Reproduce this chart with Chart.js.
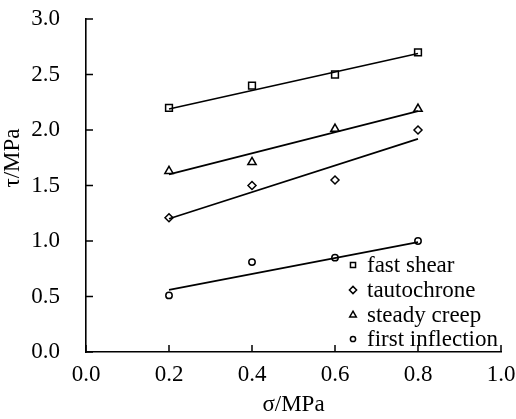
<!DOCTYPE html>
<html>
<head>
<meta charset="utf-8">
<script src="https://cdn.jsdelivr.net/npm/chart.js@4/dist/chart.umd.min.js"></script>
<style>
  html, body { margin: 0; padding: 0; background: #fff; }
  #wrap { width: 516px; height: 419px; }
</style>
</head>
<body>
<div id="wrap"><canvas id="c" width="516" height="419"></canvas></div>
<script>
// normal stress, MPa
const sigma = [0.2, 0.4, 0.6, 0.8];
// shear strength, MPa
const fastShear = [2.2, 2.4, 2.5, 2.7];
const tautochrone = [1.21, 1.5, 1.55, 2.0];
const steadyCreep = [1.63, 1.71, 2.01, 2.19];
const firstInflection = [0.51, 0.81, 0.85, 1.0];
// straight-line fits, ends at first and last sigma
const fitSigma = [0.2, 0.8];
const fastShearFit = [2.19, 2.69];
const tautochroneFit = [1.2, 1.92];
const steadyCreepFit = [1.6, 2.17];
const firstInflectionFit = [0.56, 0.99];

const labels = ['fast shear', 'tautochrone', 'steady creep', 'first inflection'];
const xTicks = [0, 0.2, 0.4, 0.6, 0.8, 1.0];
const yTicks = [0, 0.5, 1.0, 1.5, 2.0, 2.5, 3.0];

const FONT = '"Liberation Serif", "Times New Roman", serif';
const SIZE = 23;
Chart.defaults.font.family = FONT;
Chart.defaults.color = '#000';

function pts(xs, ys) {
    return xs.map((x, i) => ({ x: x, y: ys[i] }));
}

const series = [
    { data: fastShear, fit: fastShearFit, style: 'rect', r: 4.8, lr: 3.6 },
    { data: tautochrone, fit: tautochroneFit, style: 'rectRot', r: 4, lr: 3.6 },
    { data: steadyCreep, fit: steadyCreepFit, style: 'triangle', r: 4.8, lr: 3.8 },
    { data: firstInflection, fit: firstInflectionFit, style: 'circle', r: 3.2, lr: 2.6 }
];

const datasets = [];
series.forEach((s, i) => {
    datasets.push({
        label: labels[i],
        data: pts(sigma, s.data),
        showLine: false,
        pointStyle: s.style,
        pointRadius: s.r,
        pointBorderWidth: 1.5,
        pointBorderColor: '#000',
        pointBackgroundColor: 'rgba(0,0,0,0)',
        legendRadius: s.lr
    });
    datasets.push({
        label: labels[i] + ' fit',
        data: pts(fitSigma, s.fit),
        showLine: true,
        borderColor: '#000',
        borderWidth: 1.6,
        pointRadius: 0,
        fill: false
    });
});

// inward ticks, axis titles and the legend inside the plot
const decorations = {
    id: 'decorations',
    afterDraw(chart) {
        const ctx = chart.ctx;
        const a = chart.chartArea;
        const xs = chart.scales.x, ys = chart.scales.y;
        ctx.save();
        ctx.strokeStyle = '#000';
        ctx.lineWidth = 1.5;
        ctx.beginPath();
        yTicks.forEach(v => {
            const y = ys.getPixelForValue(v);
            ctx.moveTo(a.left, y);
            ctx.lineTo(a.left + 7, y);
        });
        xTicks.forEach(v => {
            const x = xs.getPixelForValue(v);
            ctx.moveTo(x, a.bottom);
            ctx.lineTo(x, a.bottom - 7);
        });
        ctx.stroke();

        ctx.fillStyle = '#000';
        ctx.font = SIZE + 'px ' + FONT;
        ctx.textAlign = 'center';
        ctx.textBaseline = 'middle';
        ctx.fillText('σ/MPa', (a.left + a.right) / 2, 405);

        ctx.save();
        ctx.translate(13, 158);
        ctx.rotate(-Math.PI / 2);
        ctx.fillText('τ/MPa', 0, 0);
        ctx.restore();

        // legend
        ctx.textAlign = 'left';
        const mx = a.right - 148, tx = a.right - 134;
        const rowY = [a.bottom - 87, a.bottom - 62, a.bottom - 37, a.bottom - 13];
        chart.data.datasets.filter(d => !d.showLine).forEach((d, i) => {
            ctx.lineWidth = 1.5;
            ctx.fillStyle = 'rgba(0,0,0,0)';
            Chart.helpers.drawPoint(ctx, {
                pointStyle: d.pointStyle,
                radius: d.legendRadius,
                borderWidth: 1.5
            }, mx, rowY[i]);
            ctx.fillStyle = '#000';
            ctx.fillText(d.label, tx, rowY[i] + 1);
        });
        ctx.restore();
    }
};

new Chart(document.getElementById('c'), {
    type: 'scatter',
    data: { datasets: datasets },
    options: {
        responsive: false,
        animation: false,
        layout: { padding: { top: 19, right: 15, left: 0, bottom: 0 } },
        plugins: {
            legend: { display: false },
            tooltip: { enabled: false }
        },
        scales: {
            x: {
                type: 'linear',
                min: 0,
                max: 1,
                afterBuildTicks: s => { s.ticks = xTicks.map(v => ({ value: v })); },
                afterFit: s => { s.height = 67; s.paddingLeft = 0; s.paddingRight = 0; },
                ticks: {
                    padding: 9,
                    font: { size: SIZE },
                    maxRotation: 0,
                    callback: v => v.toFixed(1)
                },
                grid: { drawOnChartArea: false, drawTicks: false },
                border: { color: '#000', width: 1.6 }
            },
            y: {
                type: 'linear',
                min: 0,
                max: 3,
                afterBuildTicks: s => { s.ticks = yTicks.map(v => ({ value: v })); },
                afterFit: s => { s.width = 86; s.paddingTop = 0; s.paddingBottom = 0; },
                ticks: {
                    padding: 26,
                    font: { size: SIZE },
                    callback: v => v.toFixed(1)
                },
                grid: { drawOnChartArea: false, drawTicks: false },
                border: { color: '#000', width: 1.6 }
            }
        }
    },
    plugins: [decorations]
});
</script>
</body>
</html>
